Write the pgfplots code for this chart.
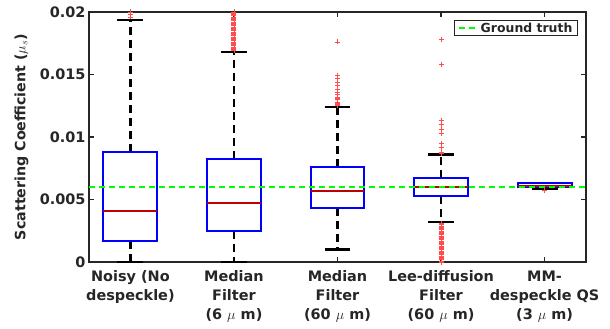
\documentclass[border=0pt]{standalone}
\usepackage{pgfplots}
\pgfplotsset{compat=1.18}
\usepgfplotslibrary{statistics}
\usetikzlibrary{calc}
\usepackage{fontspec}
\setmainfont{DejaVu Sans}
\definecolor{txt}{rgb}{0.15,0.15,0.15}
\definecolor{medred}{rgb}{0.75,0,0}
\definecolor{outred}{rgb}{1,0.3,0.3}
\begin{document}
\begin{tikzpicture}
% values are in units of 1e-3 (i.e. 5 means 0.005)
\pgfplotsset{
  mybox/.style={
    forget plot,
    boxplot/draw direction=y,
    boxplot/box extend=0.52,
    boxplot/whisker extend=0.25,
    boxplot/every box/.style={draw=blue, line width=2bp, fill=none},
    boxplot/every median/.style={draw=medred, line width=2bp},
    boxplot/draw/lower whisker/.code={%
      \draw[black, line width=2.2bp, dash pattern=on 8bp off 5bp]
        (boxplot box cs:\pgfplotsboxplotvalue{lower quartile},0.5) --
        (boxplot box cs:\pgfplotsboxplotvalue{lower whisker},0.5);
      \draw[black, line width=2.2bp]
        (boxplot whisker cs:\pgfplotsboxplotvalue{lower whisker},0) --
        (boxplot whisker cs:\pgfplotsboxplotvalue{lower whisker},1);
    },
    boxplot/draw/upper whisker/.code={%
      \draw[black, line width=2.2bp, dash pattern=on 8bp off 5bp]
        (boxplot box cs:\pgfplotsboxplotvalue{upper quartile},0.5) --
        (boxplot box cs:\pgfplotsboxplotvalue{upper whisker},0.5);
      \draw[black, line width=2.2bp]
        (boxplot whisker cs:\pgfplotsboxplotvalue{upper whisker},0) --
        (boxplot whisker cs:\pgfplotsboxplotvalue{upper whisker},1);
    },
    mark=+, mark size=2.5bp, mark options={outred, line width=0.5bp, solid},
  },
}
\begin{axis}[
  name=ax,
  scale only axis, width=497bp, height=250bp,
  xmin=0.6, xmax=5.4, ymin=0, ymax=20,
  xtick={1,2,3,4,5},
  xticklabels={{Noisy (No\\despeckle)},{Median\\Filter\\(6 $\mu$ m)},{Median\\Filter\\(60 $\mu$ m)},{Lee-diffusion\\Filter\\(60 $\mu$ m)},{MM-\\despeckle QS\\(3 $\mu$ m)}},
  ytick={0,5,10,15,20},
  yticklabels={0,0.005,0.01,0.015,0.02},
  tick align=inside,
  major tick length=5bp,
  axis line style={txt, line width=1.3bp},
  every tick/.style={txt, line width=1.3bp},
  every tick label/.append style={font=\bfseries\fontsize{14.5}{19.3}\selectfont, text=txt},
  xticklabel style={align=center, anchor=north, yshift=-5bp},
  ylabel={Scattering Coefficient ($\mu_s$)},
  ylabel style={font=\bfseries\fontsize{14.3}{16}\selectfont, text=txt, at={(axis description cs:-0.136,0.5)}, anchor=center},
  legend style={at={(1,1)}, xshift=-8bp, yshift=-8bp, anchor=north east, draw=txt, line width=1.2bp,
    font=\bfseries\fontsize{12.5}{14}\selectfont, text=txt, inner xsep=3.5bp, inner ysep=0.5bp, nodes={inner sep=1.5bp}},
  legend image code/.code={\draw[#1] (0bp,0bp) -- (20bp,0bp);},
]
\addplot[mybox, boxplot prepared={draw position=1, lower whisker=0, lower quartile=1.7, median=4.1, upper quartile=8.8, upper whisker=19.33}]
  table[row sep=\\, y index=0] {data\\ 19.6\\ 19.8\\ 20.0\\};
\addplot[mybox, boxplot prepared={draw position=2, lower whisker=0, lower quartile=2.5, median=4.7, upper quartile=8.2, upper whisker=16.8}]
  table[row sep=\\, y index=0] {data\\ 16.9\\ 17.0\\ 17.1\\ 17.2\\ 17.3\\ 17.4\\ 17.5\\ 17.6\\ 17.7\\ 17.8\\ 17.9\\ 18.0\\ 18.1\\ 18.2\\ 18.3\\ 18.4\\ 18.5\\ 18.6\\ 18.7\\ 18.8\\ 18.9\\ 19.0\\ 19.1\\ 19.2\\ 19.3\\ 19.4\\ 19.5\\ 19.6\\ 19.7\\ 19.8\\ 19.9\\ 20.0\\};
\addplot[mybox, boxplot prepared={draw position=3, lower whisker=1.0, lower quartile=4.3, median=5.7, upper quartile=7.6, upper whisker=12.4}]
  table[row sep=\\, y index=0] {data\\ 12.5\\ 12.6\\ 12.7\\ 12.8\\ 13.0\\ 13.1\\ 13.2\\ 13.4\\ 13.6\\ 13.8\\ 14.1\\ 14.4\\ 14.7\\ 14.9\\ 17.6\\};
\addplot[mybox, boxplot prepared={draw position=4, lower whisker=3.2, lower quartile=5.3, median=6.0, upper quartile=6.75, upper whisker=8.6}]
  table[row sep=\\, y index=0] {data\\ 0.0\\ 0.1\\ 0.2\\ 0.3\\ 0.4\\ 0.5\\ 0.6\\ 0.7\\ 0.8\\ 0.9\\ 1.0\\ 1.1\\ 1.2\\ 1.3\\ 1.4\\ 1.5\\ 1.6\\ 1.7\\ 1.8\\ 1.9\\ 2.0\\ 2.1\\ 2.2\\ 2.3\\ 2.4\\ 2.5\\ 2.6\\ 2.7\\ 2.8\\ 2.9\\ 3.0\\ 3.1\\ 8.7\\ 8.8\\ 9.2\\ 9.5\\ 10.3\\ 10.6\\ 11.0\\ 11.3\\ 15.8\\ 17.8\\};
\addplot[mybox, boxplot prepared={draw position=5, lower whisker=5.85, lower quartile=5.98, median=6.12, upper quartile=6.3, upper whisker=6.3}]
  table[row sep=\\, y index=0] {data\\ 5.76\\};
\addplot[green, line width=1.3bp, dash pattern=on 6bp off 4bp] coordinates {(0.6,6.0) (5.4,6.0)};
\addlegendentry{Ground truth}
\end{axis}
\pgfresetboundingbox
\path ($(ax.south west)+(-89bp,-67bp)$) rectangle ($(ax.north east)+(24bp,12bp)$);
\end{tikzpicture}
\end{document}
